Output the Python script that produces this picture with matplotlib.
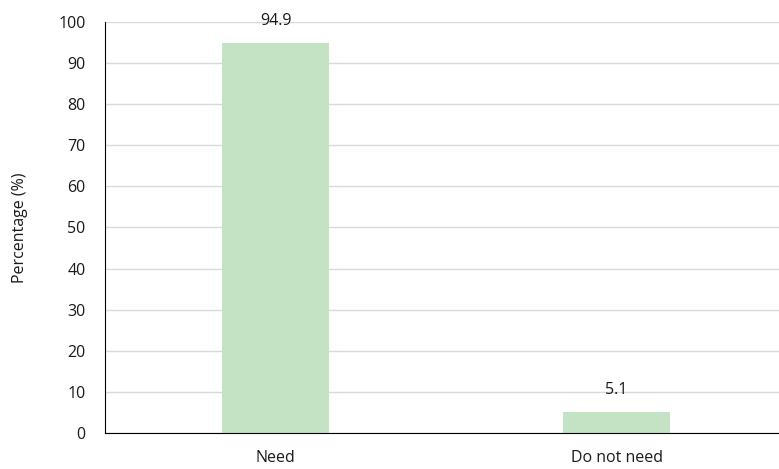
import matplotlib.pyplot as plt

categories = ['Need', 'Do not need']
percentages = [94.9, 5.1]

plt.rcParams['font.family'] = ['Open Sans', 'DejaVu Sans']

fig = plt.figure(figsize=(7.79, 4.69), dpi=100)
ax = fig.add_axes([0.1348, 0.0768, 0.8755, 0.8763])

x = range(len(categories))
bars = ax.bar(x, percentages, width=0.311, color='#c4e3c4', zorder=3)

# value labels above each bar
for a, b in zip(x, percentages):
    ax.annotate('%.1f' % b, (a, b), xytext=(0, 10), textcoords='offset points',
                ha='center', va='bottom', fontsize=11.5, color='#1a1a1a')

ax.set_xlim(-0.5, 1.5)
ax.set_ylim(0, 100)
ax.set_yticks(range(0, 101, 10))
ax.set_xticks(list(x))
ax.set_xticklabels(categories)
ax.tick_params(axis='both', length=0, labelsize=11.5, colors='#1a1a1a')
ax.tick_params(axis='y', pad=14)
ax.tick_params(axis='x', pad=12)
ax.set_ylabel('Percentage (%)', fontsize=11.5, color='#1a1a1a', labelpad=22)

ax.grid(axis='y', color='#d9d9d9', linewidth=1, zorder=0)
ax.spines['top'].set_visible(False)
ax.spines['right'].set_visible(False)
ax.spines['left'].set_color('black')
ax.spines['bottom'].set_color('black')
ax.spines['left'].set_zorder(4)
ax.spines['bottom'].set_zorder(4)

fig.savefig('out.png', dpi=100)
